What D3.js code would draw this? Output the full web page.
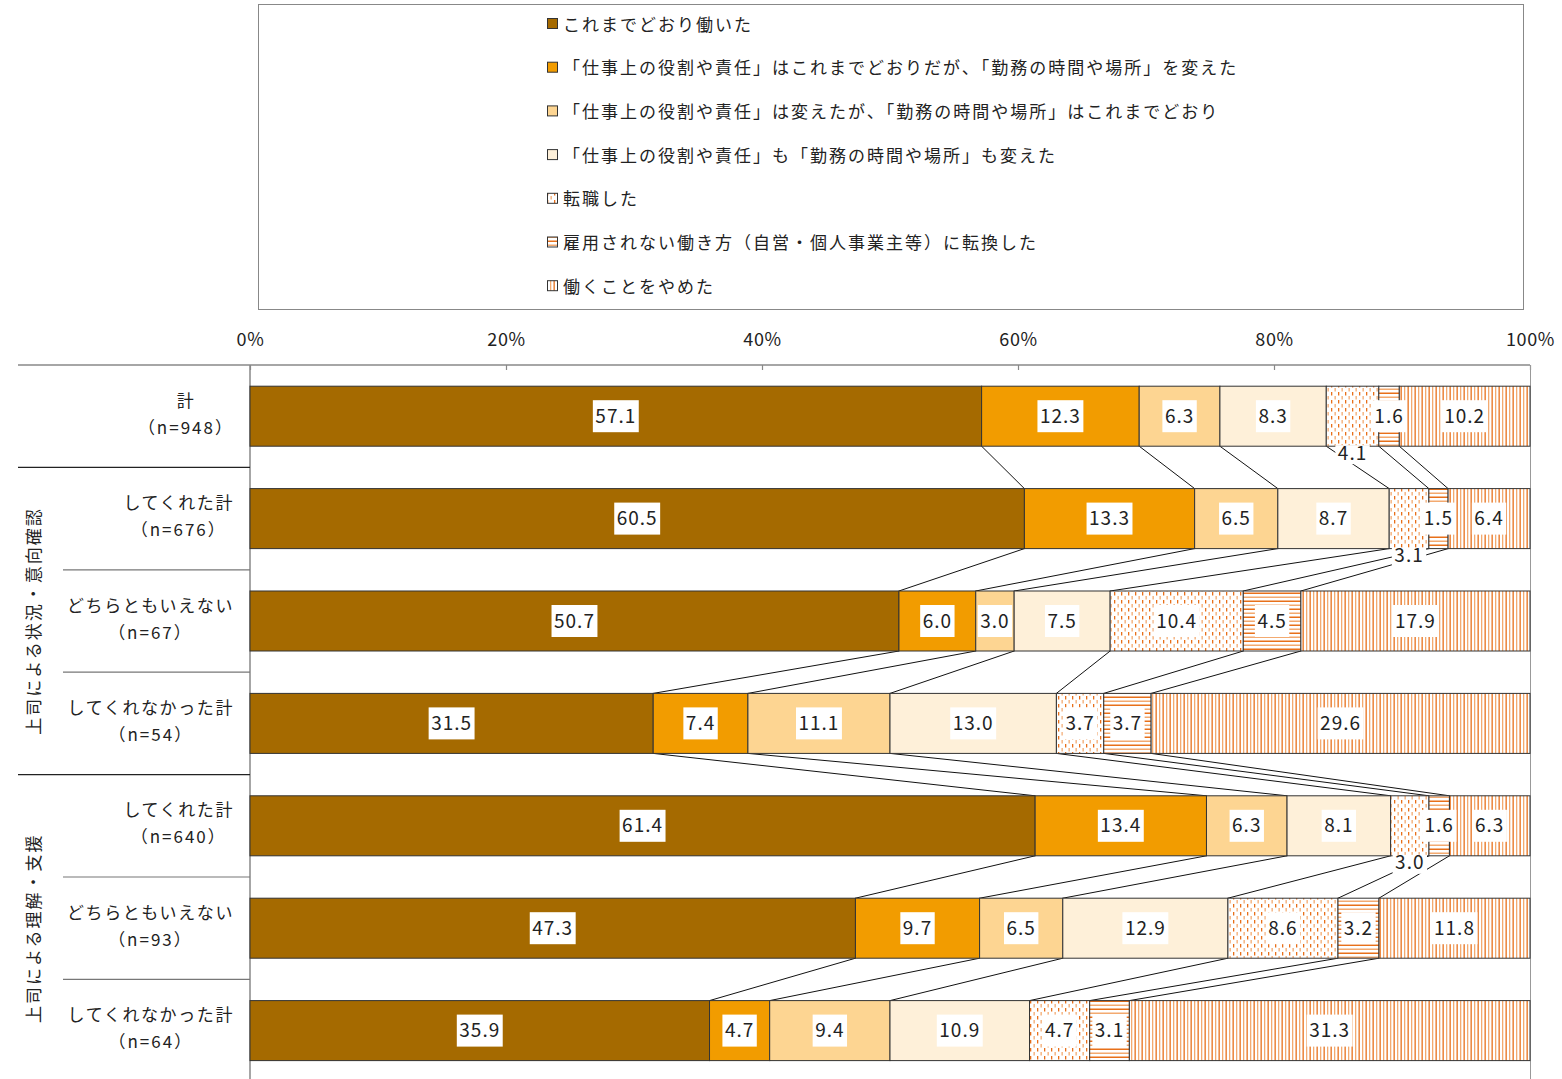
<!DOCTYPE html>
<html>
<head>
<meta charset="utf-8">
<script src="https://cdn.jsdelivr.net/npm/d3@7"></script>
<style>
  body { margin: 0; background: #fff; }
  svg { display: block; }
  text { font-family: "Noto Sans CJK JP", "Noto Sans", sans-serif; fill: #222; }
</style>
</head>
<body>
<svg id="chart" width="1562" height="1079"></svg>
<script>
// Row categories (top to bottom) and their sample sizes
const categories = ["計", "してくれた計", "どちらともいえない", "してくれなかった計", "してくれた計", "どちらともいえない", "してくれなかった計"];
const sampleSizes = [948, 676, 67, 54, 640, 93, 64];

// Group headings spanning rows (first row, last row)
const groupNames = ["上司による状況・意向確認", "上司による理解・支援"];
const groupRows = [[1, 3], [4, 6]];

// Series names (legend order = stacking order)
const seriesNames = [
  "これまでどおり働いた",
  "「仕事上の役割や責任」はこれまでどおりだが、「勤務の時間や場所」を変えた",
  "「仕事上の役割や責任」は変えたが、「勤務の時間や場所」はこれまでどおり",
  "「仕事上の役割や責任」も「勤務の時間や場所」も変えた",
  "転職した",
  "雇用されない働き方（自営・個人事業主等）に転換した",
  "働くことをやめた"
];

// Percent values per series, one entry per row
const sKeep      = [57.1, 60.5, 50.7, 31.5, 61.4, 47.3, 35.9];
const sTimePlace = [12.3, 13.3,  6.0,  7.4, 13.4,  9.7,  4.7];
const sRole      = [ 6.3,  6.5,  3.0, 11.1,  6.3,  6.5,  9.4];
const sBoth      = [ 8.3,  8.7,  7.5, 13.0,  8.1, 12.9, 10.9];
const sJobChange = [ 4.1,  3.1, 10.4,  3.7,  3.0,  8.6,  4.7];
const sSelfEmp   = [ 1.6,  1.5,  4.5,  3.7,  1.6,  3.2,  3.1];
const sStopped   = [10.2,  6.4, 17.9, 29.6,  6.3, 11.8, 31.3];
const seriesValues = [sKeep, sTimePlace, sRole, sBoth, sJobChange, sSelfEmp, sStopped];

// Axis tick values
const tickValues = [0, 20, 40, 60, 80, 100];

// Segments whose value label sits just under the bar: [row, series]
const calloutBelow = [[0, 4], [1, 4], [4, 4]];

// ---------------------------------------------------------------
const svg = d3.select("#chart");
const W = 1562, H = 1079;
svg.append("rect").attr("width", W).attr("height", H).attr("fill", "#fff");

const fills = ["#A56A00", "#F29C00", "#FDD592", "#FEF0D9", "url(#pJob)", "url(#pSelf)", "url(#pStop)"];
const dark = "#E8701A", light = "#F3AA70";

// Hatch patterns
const defs = svg.append("defs");
const pJob = defs.append("pattern").attr("id", "pJob").attr("patternUnits", "userSpaceOnUse")
  .attr("width", 7).attr("height", 8);
pJob.append("rect").attr("width", 7).attr("height", 8).attr("fill", "#fff");
pJob.append("rect").attr("x", 1).attr("y", 0).attr("width", 1.3).attr("height", 3.5).attr("fill", dark);
pJob.append("rect").attr("x", 4.5).attr("y", 4).attr("width", 1.3).attr("height", 3.5).attr("fill", light);

const pSelf = defs.append("pattern").attr("id", "pSelf").attr("patternUnits", "userSpaceOnUse")
  .attr("width", 8).attr("height", 8);
pSelf.append("rect").attr("width", 8).attr("height", 8).attr("fill", "#fff");
pSelf.append("rect").attr("x", 0).attr("y", 0.5).attr("width", 8).attr("height", 1.5).attr("fill", dark);
pSelf.append("rect").attr("x", 0).attr("y", 4.5).attr("width", 8).attr("height", 1.5).attr("fill", light);

const pStop = defs.append("pattern").attr("id", "pStop").attr("patternUnits", "userSpaceOnUse")
  .attr("width", 7).attr("height", 8);
pStop.append("rect").attr("width", 7).attr("height", 8).attr("fill", "#fff");
pStop.append("rect").attr("x", 0.5).attr("y", 0).attr("width", 1.3).attr("height", 8).attr("fill", dark);
pStop.append("rect").attr("x", 4).attr("y", 0).attr("width", 1.3).attr("height", 8).attr("fill", light);

// ---------------------------------------------------------------
// Legend
const legendBox = { x: 258, y: 4, w: 1265, h: 305 };
svg.append("rect").attr("x", legendBox.x + 0.5).attr("y", legendBox.y + 0.5)
  .attr("width", legendBox.w).attr("height", legendBox.h)
  .attr("fill", "none").attr("stroke", "#888").attr("stroke-width", 1);

const legend = svg.append("g");
seriesNames.forEach((name, i) => {
  const cy = 24 + i * 43.7;
  legend.append("rect").attr("x", 547.5).attr("y", cy - 5.5).attr("width", 10).attr("height", 10)
    .attr("fill", fills[i]).attr("stroke", "#333").attr("stroke-width", 1);
  legend.append("text").attr("x", 563).attr("y", cy - 1).attr("dominant-baseline", "central")
    .attr("font-size", 17).attr("letter-spacing", 2.0).text(name);
});

// ---------------------------------------------------------------
// Scales
const x = d3.scaleLinear().domain([0, 100]).range([250, 1530]);
const y = d3.scaleBand().domain(d3.range(categories.length)).range([365, 1081.8])
  .paddingInner(0.414).paddingOuter(0.207);
const step = y.step();

// Stack rows (normalised to 100 so each bar spans the full width)
const rows = categories.map((c, r) => {
  const vals = seriesValues.map(s => s[r]);
  const total = d3.sum(vals);
  let acc = 0;
  const segs = vals.map((v, k) => {
    const x0 = acc / total * 100;
    acc += v;
    return { row: r, k, v, x0, x1: acc / total * 100 };
  });
  return segs;
});

// Top axis
const axis = d3.axisTop(x).tickValues(tickValues).tickFormat(d => d + "%")
  .tickSizeInner(-5).tickSizeOuter(0).tickPadding(19);
const gAxis = svg.append("g").attr("transform", "translate(0,365)").call(axis);
gAxis.select(".domain").remove();
gAxis.selectAll(".tick line").attr("stroke", "#888").attr("stroke-width", 1.2);
gAxis.selectAll(".tick text").attr("font-size", 18).attr("letter-spacing", 0.6)
  .attr("fill", "#222").style("font-family", "'Noto Sans CJK JP', sans-serif");

svg.append("line").attr("x1", 18).attr("x2", 1530).attr("y1", 365).attr("y2", 365)
  .attr("stroke", "#888").attr("stroke-width", 1.5);
// plot frame right edge and category axis
svg.append("line").attr("x1", 1530.5).attr("x2", 1530.5).attr("y1", 365).attr("y2", H)
  .attr("stroke", "#999").attr("stroke-width", 1);
svg.append("line").attr("x1", 250).attr("x2", 250).attr("y1", 365).attr("y2", H)
  .attr("stroke", "#888").attr("stroke-width", 1.5);

// Row separators in the label column
for (let r = 1; r < categories.length; r++) {
  const yy = 365 + r * step;
  const groupEdge = groupRows.some(g => g[0] === r);
  svg.append("line").attr("x1", groupEdge ? 18 : 63).attr("x2", 250)
    .attr("y1", yy).attr("y2", yy)
    .attr("stroke", groupEdge ? "#222" : "#777").attr("stroke-width", 1.2);
}

// Connector lines between consecutive bars
const gConn = svg.append("g");
for (let r = 0; r < rows.length - 1; r++) {
  for (let k = 0; k < seriesNames.length - 1; k++) {
    gConn.append("line")
      .attr("x1", x(rows[r][k].x1)).attr("y1", y(r) + y.bandwidth())
      .attr("x2", x(rows[r + 1][k].x1)).attr("y2", y(r + 1))
      .attr("stroke", "#111").attr("stroke-width", 1);
  }
}

// Bars
const gBars = svg.append("g");
rows.forEach(segs => {
  gBars.selectAll(null).data(segs).join("rect")
    .attr("x", d => x(d.x0)).attr("y", d => y(d.row))
    .attr("width", d => x(d.x1) - x(d.x0)).attr("height", y.bandwidth())
    .attr("fill", d => fills[d.k])
    .attr("stroke", "#333").attr("stroke-width", 1);
});

// Value labels with white boxes
const gLab = svg.append("g");
const fmt = d3.format(".1f");
rows.forEach(segs => {
  segs.forEach(d => {
    const below = calloutBelow.some(c => c[0] === d.row && c[1] === d.k);
    const cx = (x(d.x0) + x(d.x1)) / 2;
    const cy = below ? y(d.row) + y.bandwidth() + 7 : y(d.row) + y.bandwidth() / 2;
    const g = gLab.append("g");
    const t = g.append("text").attr("x", cx).attr("y", cy - 2)
      .attr("text-anchor", "middle").attr("dominant-baseline", "central")
      .attr("font-size", 19).attr("letter-spacing", 1).text(fmt(d.v));
    const bb = t.node().getBBox();
    const bw = bb.width + 5;
    const bh = below ? 19 : 32;
    const by = below ? cy - 8 : cy - bh / 2;
    g.insert("rect", "text").attr("x", cx - bw / 2).attr("y", by)
      .attr("width", bw).attr("height", bh).attr("fill", "#fff");
  });
});

// Row labels (two lines, centred within a right-aligned block)
const gRow = svg.append("g");
categories.forEach((c, r) => {
  const cy = y(r) + y.bandwidth() / 2;
  const g = gRow.append("g");
  const t1 = g.append("text").attr("y", cy - 17).attr("dominant-baseline", "central")
    .attr("text-anchor", "middle").attr("font-size", 17).attr("letter-spacing", 1.6).text(c);
  const t2 = g.append("text").attr("y", cy + 10).attr("dominant-baseline", "central")
    .attr("text-anchor", "middle").attr("font-size", 17).attr("letter-spacing", 2).text("（n=" + sampleSizes[r] + "）");
  const w = Math.max(t1.node().getComputedTextLength(), t2.node().getComputedTextLength());
  const cx = 234 - w / 2;
  t1.attr("x", cx); t2.attr("x", cx);
});

// Group headings (rotated)
groupNames.forEach((name, i) => {
  const [a, b] = groupRows[i];
  const cy = (y(a) - y.step() * 0.207 + y(b) + y.bandwidth() + y.step() * 0.207) / 2;
  svg.append("text").attr("transform", `translate(32,${cy}) rotate(-90)`)
    .attr("text-anchor", "middle").attr("dominant-baseline", "central")
    .attr("font-size", 17).attr("letter-spacing", 2).text(name);
});
</script>
</body>
</html>
